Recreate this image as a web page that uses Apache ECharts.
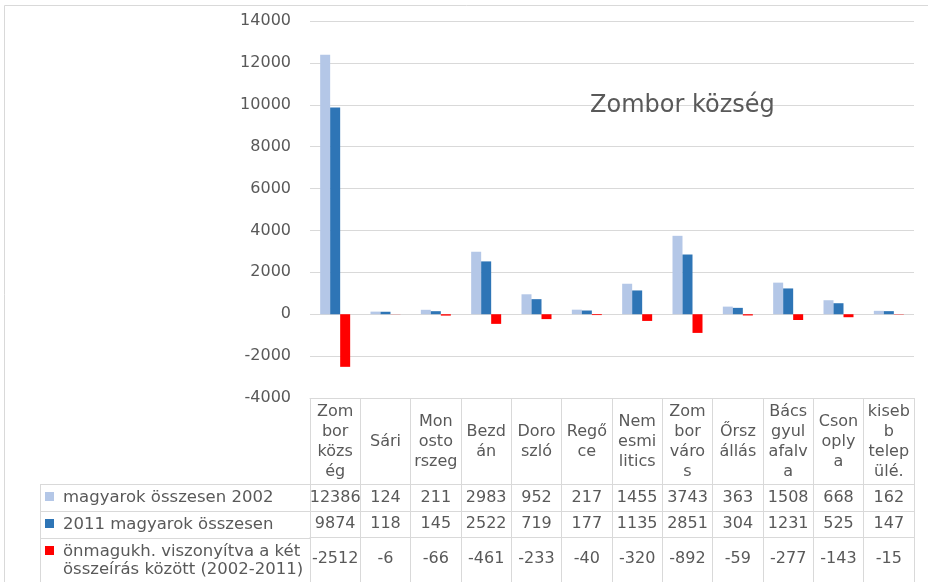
<!DOCTYPE html>
<html>
<head>
<meta charset="utf-8">
<script src="https://cdn.jsdelivr.net/npm/echarts@6/dist/echarts.min.js"></script>
<style>
html, body { margin: 0; padding: 0; background: #fff; }
#chart { width: 928px; height: 582px; }
</style>
</head>
<body>
<div id="chart"></div>
<script>
// település nevek (tördelve, ahogy a táblázat fejlécében)
const places = ['Zom\nbor\nközs\nég', 'Sári', 'Mon\nosto\nrszeg', 'Bezd\nán', 'Doro\nszló', 'Regő\nce',
    'Nem\nesmi\nlitics', 'Zom\nbor\nváro\ns', 'Őrsz\nállás', 'Bács\ngyul\nafalv\na', 'Cson\noply\na', 'kiseb\nb\ntelep\nülé.'];
const seriesNames = ['magyarok összesen 2002', '2011 magyarok összesen',
    'önmagukh. viszonyítva a két\nösszeírás között (2002-2011)'];
const hu2002 = [12386, 124, 211, 2983, 952, 217, 1455, 3743, 363, 1508, 668, 162];
const hu2011 = [9874, 118, 145, 2522, 719, 177, 1135, 2851, 304, 1231, 525, 147];
const change = [-2512, -6, -66, -461, -233, -40, -320, -892, -59, -277, -143, -15];
const yMin = -4000, yMax = 14000, yStep = 2000;

const colors = ['#b4c7e7', '#2e75b6', '#ff0000'];
const font = 'DejaVu Sans';
const textColor = '#595959';
const gridColor = '#d9d9d9';

const chartDom = document.getElementById('chart');
const myChart = echarts.init(chartDom);

// táblázat sorai: [adatok, eltolás a tengelytől, címke margó]
const rows = [
    [hu2002, 86, 14],
    [hu2011, 113, 13],
    [change, 139, 22]
];

const xAxes = [{
    type: 'category',
    data: places,
    position: 'bottom',
    axisLine: { onZero: false, lineStyle: { color: gridColor } },
    axisTick: { show: true, interval: 0, length: 200, lineStyle: { color: gridColor } },
    axisLabel: {
        interval: 0, margin: 44, verticalAlign: 'middle', lineHeight: 20,
        fontFamily: font, fontSize: 16, color: textColor
    }
}];
rows.forEach(r => {
    xAxes.push({
        type: 'category',
        data: r[0].map(String),
        position: 'bottom',
        offset: r[1],
        axisLine: { onZero: false, lineStyle: { color: gridColor } },
        axisTick: { show: false },
        axisLabel: {
            interval: 0, margin: r[2], verticalAlign: 'middle',
            fontFamily: font, fontSize: 16, color: textColor
        }
    });
});

// bal oldali jelmagyarázat oszlop
const legendTop = [484, 511, 538];
const legendGraphics = [
    { type: 'rect', shape: { x: 4.5, y: 5.5, width: 1000, height: 1000 }, style: { fill: 'none', stroke: gridColor } },
    { type: 'line', shape: { x1: 40.5, y1: 484, x2: 40.5, y2: 600 }, style: { stroke: gridColor } }
];
seriesNames.forEach((name, i) => {
    legendGraphics.push({ type: 'line', shape: { x1: 40, y1: legendTop[i] + 0.5, x2: 310, y2: legendTop[i] + 0.5 }, style: { stroke: gridColor } });
    legendGraphics.push({ type: 'rect', shape: { x: 45, y: legendTop[i] + 8, width: 9, height: 9 }, style: { fill: colors[i] } });
    legendGraphics.push({
        type: 'text', x: 63, y: i < 2 ? legendTop[i] + 13.5 : legendTop[i] + 5,
        style: {
            text: name, fill: textColor, font: '16.5px "' + font + '"',
            verticalAlign: i < 2 ? 'middle' : 'top', lineHeight: 18
        }
    });
});

const option = {
    animation: false,
    title: {
        text: 'Zombor község',
        left: 585, top: 89,
        textStyle: { fontFamily: font, fontSize: 24, fontWeight: 'normal', color: textColor }
    },
    grid: { left: 310, right: 14, top: 21, bottom: 184 },
    xAxis: xAxes,
    yAxis: {
        type: 'value',
        min: yMin, max: yMax, interval: yStep,
        axisLine: { show: false },
        axisTick: { show: false },
        splitLine: { lineStyle: { color: gridColor } },
        axisLabel: { margin: 19, fontFamily: font, fontSize: 16, color: textColor, formatter: v => String(v) }
    },
    graphic: legendGraphics,
    series: [hu2002, hu2011, change].map((d, i) => ({
        name: seriesNames[i],
        type: 'bar',
        data: d,
        barWidth: 10,
        barGap: '0%',
        itemStyle: { color: colors[i] }
    }))
};

myChart.setOption(option);
</script>
</body>
</html>
